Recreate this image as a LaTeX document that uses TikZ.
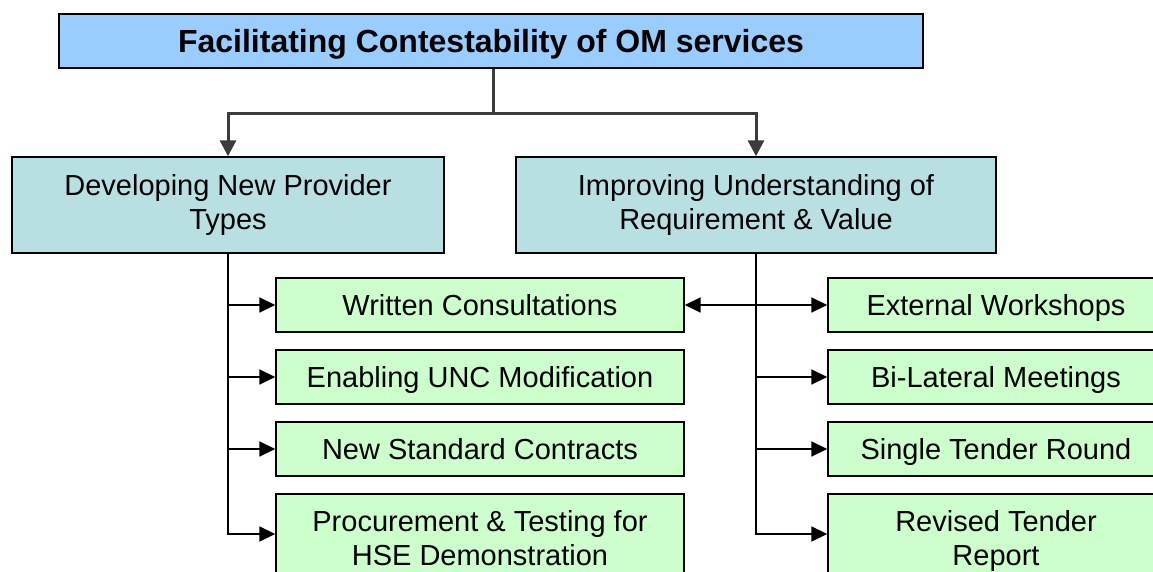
\documentclass[tikz,border=0pt]{standalone}
\usepackage{fontspec}
\setmainfont{Liberation Sans}
\usetikzlibrary{arrows.meta}
\usetikzlibrary{positioning}
\usetikzlibrary{calc}
\definecolor{topblue}{HTML}{99CCFF}
\definecolor{midteal}{HTML}{B8E0E3}
\definecolor{leafgreen}{HTML}{CCFFCC}
\definecolor{trunkgray}{HTML}{3C3C3C}

\begin{document}
\begin{tikzpicture}[x=1pt,y=-1pt,
		box/.style={draw=black, line width=1.4pt, align=center, inner sep=0pt, font=\fontsize{29}{34}\selectfont},
		topbox/.style={box, fill=topblue, minimum width=864pt, minimum height=54pt, text height=23pt, text depth=0pt, font=\fontsize{32}{36}\selectfont\bfseries},
		midbox/.style={box, fill=midteal, minimum height=96pt},
		leftleaf/.style={box, fill=leafgreen, minimum width=408pt, minimum height=54pt},
		rightleaf/.style={box, fill=leafgreen, minimum width=336pt, minimum height=54pt},
		oneline/.style={text height=21pt, text depth=0pt},
		trunk/.style={draw=trunkgray, line width=3pt, -{Triangle[length=16pt,width=16pt]}},
		link/.style={draw=black, line width=1.8pt, -{Triangle[length=16pt,width=15pt]}}]
				% page size
				\useasboundingbox (0,0) rectangle (1153,572);
				\clip (0,0) rectangle (1153,572);
				% draw top box
				\node[topbox] (facil) at (491,41) {Facilitating Contestability of OM services};
				% draw the two branches
				\node[midbox, minimum width=432pt] (develop) at (228,205) {Developing New Provider\\Types};
				\node[midbox, minimum width=480pt] (improve) at (756,205) {Improving Understanding of\\Requirement \& Value};
				% left column
				\node[leftleaf, oneline] (written) at (480,305) {Written Consultations};
				\node[leftleaf, oneline] (enabling) at (480,377) {Enabling UNC Modification};
				\node[leftleaf, oneline] (contracts) at (480,449) {New Standard Contracts};
				\node[leftleaf, minimum height=88pt] (procure) at (480,538) {Procurement \& Testing for\\HSE Demonstration};
				% right column
				\node[rightleaf, oneline] (workshops) at (996,305) {External Workshops};
				\node[rightleaf, oneline] (bilateral) at (996,377) {Bi-Lateral Meetings};
				\node[rightleaf, oneline] (tender) at (996,449) {Single Tender Round};
				\node[rightleaf, minimum height=94pt] (revised) at (996,541) {Revised Tender\\Report};
				% top connectors
				\coordinate (split) at ($(facil.south)+(2,45)$);
				\draw[trunk, -] (facil.south -| split) -- (split);
				\draw[trunk] (split) -| (develop.north);
				\draw[trunk] (split) -| (improve.north);
				% left connectors
				\draw[link] (develop.south) |- (written.west);
				\draw[link] (develop.south) |- (enabling.west);
				\draw[link] (develop.south) |- (contracts.west);
				\draw[link] (develop.south) |- ($(procure.west)+(0,-4)$);
				% right connectors
				\draw[link] (improve.south) |- (workshops.west);
				\draw[link] (improve.south |- written.east) -- (written.east);
				\draw[link] (improve.south) |- (bilateral.west);
				\draw[link] (improve.south) |- (tender.west);
				\draw[link] (improve.south) |- ($(revised.west)+(0,-7)$);
			\end{tikzpicture}
\end{document}
